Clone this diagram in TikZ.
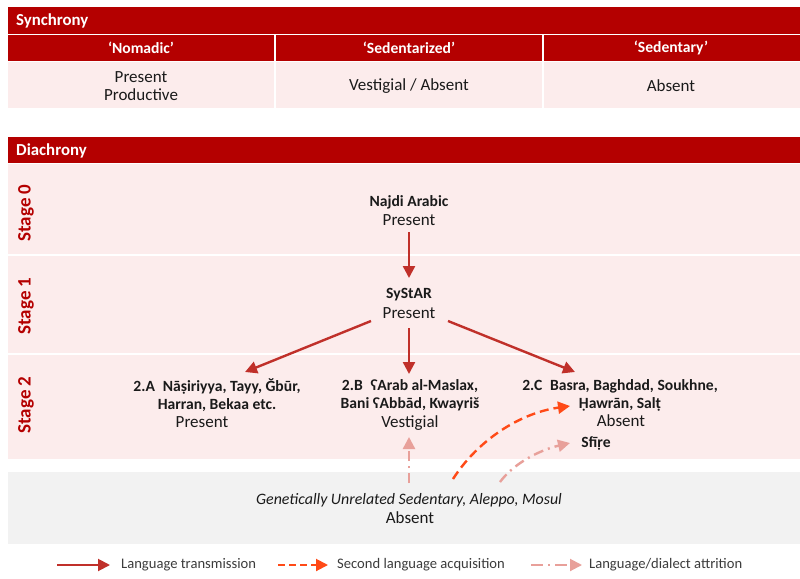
\documentclass[tikz,border=0pt]{standalone}
\usepackage{fontspec}
\setmainfont{Carlito}
\usetikzlibrary{arrows.meta}
\definecolor{hdr}{HTML}{B40000}
\definecolor{pinkbg}{HTML}{FCECEC}
\definecolor{graybg}{HTML}{F2F2F2}
\definecolor{arrred}{HTML}{C0302A}
\definecolor{arrorange}{HTML}{FF4A17}
\definecolor{arrpink}{HTML}{E8A09A}
\definecolor{txt}{HTML}{1A1A1A}
\newcommand\fReg{\fontsize{17}{17.5}\selectfont}
\newcommand\fBold{\fontsize{15.6}{18}\selectfont\bfseries}
\newcommand\fHead{\fontsize{16.8}{18}\selectfont\bfseries}
\newcommand\fStage{\fontsize{19}{20}\selectfont\bfseries}
\newcommand\fLeg{\fontsize{14.6}{16}\selectfont}
\begin{document}
\begin{tikzpicture}[x=1pt,y=-1pt,
  hdrbox/.style={fill=hdr},
  pinkbox/.style={fill=pinkbg},
  graybox/.style={fill=graybg},
  sep/.style={draw=white,line width=1.2pt},
  headtxt/.style={text=white,font=\fHead,anchor=west,inner sep=0pt},
  coltxt/.style={text=white,font=\fBold,inner sep=0pt},
  celltxt/.style={text=txt,font=\fReg,align=center,inner sep=0pt},
  stagetxt/.style={text=hdr,font=\fStage,rotate=90,inner sep=0pt},
  boldtxt/.style={text=txt,font=\fBold,align=center,inner sep=0pt},
  regtxt/.style={text=txt,font=\fReg,align=center,inner sep=0pt},
  legtxt/.style={text=txt!85,font=\fLeg,anchor=west,inner sep=0pt},
  trans/.style={draw=arrred,line width=2.4pt,-{Triangle[length=12pt,width=12pt]}},
  sla/.style={draw=arrorange,line width=2.4pt,dash pattern=on 9pt off 5pt,-{Triangle[length=12pt,width=12pt]}},
  attr/.style={draw=arrpink,line width=2.4pt,dash pattern=on 10pt off 5pt on 2pt off 5pt,-{Triangle[length=12pt,width=12pt]}}
]
\useasboundingbox (0,0) rectangle (800,578);
\fill[white] (0,0) rectangle (800,578);
% Synchrony table
\fill[hdrbox] (8,7) rectangle (800,34);
\fill[hdrbox] (8,35) rectangle (800,61);
\fill[pinkbox] (8,62) rectangle (800,108);
\draw[sep] (8,34.5) -- (800,34.5);
\draw[sep] (275,35) -- (275,108);
\draw[sep] (543,35) -- (543,108);
\node[headtxt] (synh) at (16,20.5) {Synchrony};
\node[coltxt] (c1) at (141,48) {‘Nomadic’};
\node[coltxt] (c2) at (409,48) {‘Sedentarized’};
\node[coltxt] (c3) at (671,48) {‘Sedentary’};
\node[celltxt] (v1) at (141,86) {Present\\Productive};
\node[celltxt] (v2) at (409,86) {Vestigial / Absent};
\node[celltxt] (v3) at (671,86) {Absent};
% Diachrony
\fill[hdrbox] (8,137) rectangle (800,163);
\fill[pinkbox] (8,164) rectangle (800,254);
\fill[pinkbox] (8,256) rectangle (800,353);
\fill[pinkbox] (8,355) rectangle (800,459);
\fill[graybox] (8,472) rectangle (800,544);
\node[headtxt] (diah) at (16,150.5) {Diachrony};
\node[stagetxt] (s0) at (26,213) {Stage 0};
\node[stagetxt] (s1) at (26,306) {Stage 1};
\node[stagetxt] (s2) at (26,405) {Stage 2};
% nodes
\node[boldtxt] (najdi) at (409,202) {Najdi Arabic};
\node[regtxt] (najdip) at (409,220) {Present};
\node[boldtxt] (systar) at (409,295) {SyStAR};
\node[regtxt] (systarp) at (409,313) {Present};
\node[boldtxt] (twoa) at (217,395) {2.A\enspace Nāṣiriyya, Tayy, Ğbūr,\\Harran, Bekaa etc.};
\node[regtxt] (twoap) at (202,422) {Present};
\node[boldtxt] (twob) at (410,395) {2.B\enspace ʕArab al-Maslax,\\Bani ʕAbbād, Kwayriš};
\node[regtxt] (twobp) at (410,423) {Vestigial};
\node[boldtxt] (twoc) at (620,395) {2.C\enspace Basra, Baghdad, Soukhne,\\Ḥawrān, Salṭ};
\node[regtxt] (twocp) at (621,421) {Absent};
\node[boldtxt] (sfire) at (596,443) {Sfīṛe};
\node[regtxt,font=\fontsize{15.9}{17}\selectfont\itshape] (gen) at (409,500) {Genetically Unrelated Sedentary, Aleppo, Mosul};
\node[regtxt] (genp) at (410,518) {Absent};
% connector end points
\coordinate (najdiout) at (409,232);
\coordinate (systarin) at (409,278);
\coordinate (sysL) at (371,321);
\coordinate (sysC) at (409,328);
\coordinate (sysR) at (448,321);
\coordinate (ainT) at (245,372);
\coordinate (binT) at (409,374);
\coordinate (cinT) at (575,372);
\coordinate (genC) at (409,483);
\coordinate (binB) at (409,437);
\coordinate (genO) at (453,479);
\coordinate (cinL) at (570,406);
\coordinate (genP) at (500,482);
\coordinate (sfL) at (570,443);
\draw[trans] (najdiout) -- (systarin);
\draw[trans] (sysL) -- (ainT);
\draw[trans] (sysC) -- (binT);
\draw[trans] (sysR) -- (cinT);
\draw[attr] (genC) -- (binB);
\draw[sla] (genO) .. controls (478,440) and (520,413) .. (cinL);
\draw[attr] (genP) .. controls (514,463) and (540,450) .. (sfL);
% legend
\coordinate (l1a) at (57,565); \coordinate (l1b) at (110,565);
\coordinate (l2a) at (278,565); \coordinate (l2b) at (328,565);
\coordinate (l3a) at (531,565); \coordinate (l3b) at (582,565);
\draw[trans,line width=2pt] (l1a) -- (l1b);
\draw[sla,line width=2pt,dash pattern=on 7pt off 4pt] (l2a) -- (l2b);
\draw[attr,line width=2pt,dash pattern=on 12pt off 5pt on 2pt off 5pt] (l3a) -- (l3b);
\node[legtxt] (lt1) at (121,565) {Language transmission};
\node[legtxt] (lt2) at (337,565) {Second language acquisition};
\node[legtxt] (lt3) at (589,565) {Language/dialect attrition};
\end{tikzpicture}
\end{document}
